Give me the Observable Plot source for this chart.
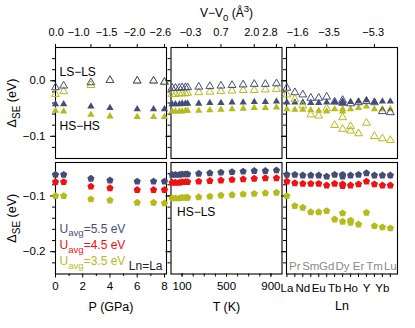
<!DOCTYPE html>
<html><head><meta charset="utf-8">
<script src="https://cdn.jsdelivr.net/npm/d3@7"></script>
<script src="https://cdn.jsdelivr.net/npm/@observablehq/plot@0.6"></script>
<style>
body{margin:0;background:#fff;}
#chart{position:relative;width:415px;height:328px;}
#chart svg{position:absolute;left:0;top:0;}
</style></head><body><div id="chart"></div>
<script>
// ---------- data ----------
const pressure = [0, 0.6, 2.6, 4.0, 6.0, 7.2, 8.0];
const pressureTicksTop = [0, 2.6, 4.0, 6.0, 8.0];
const pressureLabelPosTop = [0.05, 1.7, 3.75, 5.8, 7.7];
const volumeLabelsP = ["0.0", "−1.0", "−1.5", "−2.0", "−2.6"];
const pressureTicks = [0, 2, 4, 6, 8];
const pressureMinor = [1, 3, 5, 7];

const pLS55 = [-0.012, -0.009, -0.003, 0.001, 0.000, 0.000, -0.002];
const pLS35 = [-0.024, -0.019, -0.008, 0.001, 0.000, 0.000, -0.003];
const pHS55 = [-0.042, -0.042, -0.046, -0.049, -0.051, -0.051, -0.051];
const pHS35 = [-0.054, -0.055, -0.061, -0.064, -0.065, -0.065, -0.065];
const pHSLS55 = [-0.062, -0.062, -0.069, -0.072, -0.074, -0.074, -0.074];
const pHSLS45 = [-0.075, -0.075, -0.083, -0.086, -0.089, -0.089, -0.089];
const pHSLS35 = [-0.100, -0.100, -0.106, -0.108, -0.112, -0.112, -0.113];

const temperature = [10, 40, 75, 100, 130, 150, 250, 350, 450, 550, 650, 750, 850, 950];
const temperatureTicksTop = [150, 450, 750, 950];
const temperatureLabelPosTop = [176, 450, 728, 892];
const volumeLabelsT = ["−0.3", "0.7", "2.0", "2.8"];
const temperatureTicks = [100, 200, 300, 400, 500, 600, 700, 800, 900];
const temperatureLabels = [100, 500, 900];

const tLS55 = [-0.013, -0.013, -0.013, -0.012, -0.012, -0.012, -0.011, -0.010, -0.009, -0.008, -0.007, -0.006, -0.006, -0.005];
const tLS35 = [-0.024, -0.024, -0.023, -0.023, -0.023, -0.022, -0.021, -0.020, -0.019, -0.018, -0.017, -0.017, -0.016, -0.015];
const tHS55 = [-0.042, -0.042, -0.042, -0.041, -0.041, -0.041, -0.041, -0.040, -0.040, -0.039, -0.039, -0.038, -0.038, -0.037];
const tHS35 = [-0.055, -0.055, -0.055, -0.055, -0.054, -0.054, -0.054, -0.053, -0.052, -0.051, -0.050, -0.049, -0.049, -0.048];
const tHSLS55 = [-0.062, -0.062, -0.062, -0.061, -0.061, -0.061, -0.060, -0.059, -0.058, -0.057, -0.056, -0.055, -0.055, -0.054];
const tHSLS45 = [-0.076, -0.076, -0.076, -0.075, -0.075, -0.075, -0.074, -0.073, -0.072, -0.071, -0.070, -0.069, -0.068, -0.068];
const tHSLS35 = [-0.104, -0.104, -0.104, -0.103, -0.103, -0.103, -0.102, -0.101, -0.099, -0.098, -0.097, -0.096, -0.095, -0.094];

const lanthanides = ["La", "Pr", "Nd", "Sm", "Eu", "Gd", "Tb", "Dy", "Ho", "Er", "Y", "Tm", "Yb", "Lu"];
const lnTicksTop = [1, 5, 11];
const lnLabelPosTop = [1.36, 5.3, 10.85];
const volumeLabelsLn = ["−1.6", "−3.5", "−5.3"];
const lnOutside = ["La", "Nd", "Eu", "Tb", "Ho", "Y", "Yb"];
const lnInside = ["Pr", "Sm", "Gd", "Dy", "Er", "Tm", "Lu"];

const lLS55 = [-0.013, -0.021, -0.025, -0.031, -0.031, -0.029, -0.038, -0.035, -0.041, -0.039, -0.037, -0.039, -0.055, -0.057];
const lLS35 = [-0.025, -0.033, -0.045, -0.061, -0.063, -0.050, -0.080, -0.066, -0.082, -0.095, -0.076, -0.100, -0.104, -0.107];
const lHS55 = [-0.039, -0.039, -0.039, -0.040, -0.040, -0.039, -0.038, -0.037, -0.038, -0.037, -0.035, -0.038, -0.037, -0.037];
const lHS35 = [-0.051, -0.052, -0.052, -0.053, -0.054, -0.055, -0.051, -0.051, -0.051, -0.049, -0.046, -0.051, -0.051, -0.051];
const lHSLS55 = [-0.062, -0.062, -0.063, -0.063, -0.063, -0.065, -0.062, -0.062, -0.063, -0.062, -0.059, -0.063, -0.063, -0.063];
const lHSLS45 = [-0.074, -0.077, -0.078, -0.078, -0.078, -0.081, -0.078, -0.079, -0.081, -0.079, -0.074, -0.079, -0.081, -0.081];
const lHSLS35 = [-0.100, -0.118, -0.121, -0.129, -0.129, -0.127, -0.142, -0.131, -0.144, -0.151, -0.130, -0.154, -0.156, -0.158];
// second configurations shown at the same Ln
const lnExtra = ["Dy", "Ho"];
const lLS35Extra = [-0.087, -0.090];
const lLS55Extra = [-0.040, null];
const lHS55Extra = [-0.040, null];
const lHS35Extra = [-0.055, null];
const lHSLS55Extra = [-0.065, null];
const lHSLS45Extra = [-0.082, null];
const lHSLS35Extra = [-0.146, -0.148];

const yTopMajor = [-0.1, 0.0];
const yTopMinor = [-0.12, -0.10, -0.08, -0.06, -0.04, -0.02, 0.0, 0.02, 0.04];
const yBotMajor = [-0.2, -0.1];
const yBotMinor = [-0.22, -0.20, -0.18, -0.16, -0.14, -0.12, -0.10, -0.08, -0.06];

const legendLabels = ["U_{avg}=5.5 eV", "U_{avg}=4.5 eV", "U_{avg}=3.5 eV"];

// ---------- styles ----------
const NAVY = "#454d76", RED = "#f01212", YEL = "#b6bb1a";
const W = 415, H = 328;
const cols = [[55, 166], [170.5, 281.5], [286, 397]];
const rows = [[47, 158], [162, 273.5]];
const FONT = "'Liberation Sans', Arial, Helvetica, sans-serif";
const TICKFS = 11, TITLEFS = 12.5;

const pentagon = {
  draw(ctx, size) {
    const R = Math.sqrt(size / 2.378);
    for (let k = 0; k < 5; ++k) {
      const a = -Math.PI / 2 + k * 2 * Math.PI / 5;
      const px = R * Math.cos(a), py = R * Math.sin(a);
      if (k) ctx.lineTo(px, py); else ctx.moveTo(px, py);
    }
    ctx.closePath();
  }
};

const pts = (xs, ys) => xs.map((x, i) => ({x, y: ys[i]})).filter(d => d.y != null);
const lnIdx = names => names.map(n => lanthanides.indexOf(n));
const lnAll = lanthanides.map((d, i) => i);

const openTri = (data, color) => Plot.dot(data, {x: "x", y: "y", symbol: "triangle", r: 2.9, stroke: color, strokeWidth: 1, fill: "none"});
const fillTri = (data, color) => Plot.dot(data, {x: "x", y: "y", symbol: "triangle", r: 2.7, fill: color, stroke: "none"});
const pent = (data, color) => Plot.dot(data, {x: "x", y: "y", symbol: pentagon, r: 3.3, fill: color, stroke: "none"});

const fmt = d3.format(".1f");

function yAxes(row, withLabels) {
  const major = row === 0 ? yTopMajor : yBotMajor;
  const minor = row === 0 ? yTopMinor : yBotMinor;
  return [
    Plot.axisY({ticks: minor, tickSize: 3, tickFormat: () => "", label: null}),
    Plot.axisY({ticks: major, tickSize: 5, tickPadding: 5, tickFormat: withLabels ? fmt : () => "", label: null, fontSize: 11.5})
  ];
}

function panel(col, row, x, y, marks) {
  return Plot.plot({
    width: W, height: H,
    marginLeft: cols[col][0], marginRight: W - cols[col][1],
    marginTop: rows[row][0], marginBottom: H - rows[row][1],
    x, y,
    style: {background: "transparent", fontFamily: FONT, fontSize: "12px", color: "black", overflow: "visible"},
    marks: [Plot.frame({stroke: "black", strokeWidth: 1.1}), ...yAxes(row, col === 0), ...marks]
  });
}

const yTop = {domain: [-0.14, 0.06]};
const yBot = {domain: [-0.24, -0.04]};
const xP = {domain: [0, 8.15]};
const xT = {domain: [0, 1000]};
const xL = {domain: [-0.05, 13.9]};

const topLabels = (pos, labels) => Plot.text(pos, {x: d => d, frameAnchor: "top", dy: -15, text: (d, i) => labels[i], lineAnchor: "middle", fontSize: TICKFS});
const note = (txt, opts) => Plot.text([txt], {text: d => d, lineAnchor: "middle", fontSize: 12, ...opts});

const panels = [];

// P, top
panels.push(panel(0, 0, xP, yTop, [
  Plot.axisX({anchor: "top", ticks: pressureTicksTop, tickSize: 4, tickFormat: () => "", label: null}),
  topLabels(pressureLabelPosTop, volumeLabelsP),
  openTri(pts(pressure, pLS35), YEL), openTri(pts(pressure, pLS55), NAVY),
  fillTri(pts(pressure, pHS55), NAVY), fillTri(pts(pressure, pHS35), YEL),
  note("LS−LS", {frameAnchor: "top-left", dx: 4, dy: 25}),
  note("HS−HS", {frameAnchor: "top-left", dx: 4, dy: 79}),
  note("Δ_{SE} (eV)", {frameAnchor: "left", dx: -43.5, rotate: -90, textAnchor: "middle", fontSize: TITLEFS})
]));
// T, top
panels.push(panel(1, 0, xT, yTop, [
  Plot.axisX({anchor: "top", ticks: temperatureTicksTop, tickSize: 4, tickFormat: () => "", label: null}),
  topLabels(temperatureLabelPosTop, volumeLabelsT),
  openTri(pts(temperature, tLS35), YEL), openTri(pts(temperature, tLS55), NAVY),
  fillTri(pts(temperature, tHS55), NAVY), fillTri(pts(temperature, tHS35), YEL),
  note("V−V_{0} (Å^{3})", {frameAnchor: "top", dy: -34, dx: 0, fontSize: 12})
]));
// Ln, top
panels.push(panel(2, 0, xL, yTop, [
  Plot.axisX({anchor: "top", ticks: lnTicksTop, tickSize: 4, tickFormat: () => "", label: null}),
  topLabels(lnLabelPosTop, volumeLabelsLn),
  fillTri(pts(lnAll, lHS55).concat(pts(lnIdx(lnExtra), lHS55Extra)), NAVY),
  fillTri(pts(lnAll, lHS35).concat(pts(lnIdx(lnExtra), lHS35Extra)), YEL),
  openTri(pts(lnAll, lLS55).concat(pts(lnIdx(lnExtra), lLS55Extra)), NAVY),
  openTri(pts(lnAll, lLS35).concat(pts(lnIdx(lnExtra), lLS35Extra)), YEL)
]));
// P, bottom
panels.push(panel(0, 1, xP, yBot, [
  Plot.axisX({anchor: "bottom", ticks: pressureMinor, tickSize: 2.5, tickFormat: () => "", label: null}),
  Plot.axisX({anchor: "bottom", ticks: pressureTicks, tickSize: 4, tickPadding: 4, label: null, fontSize: 11.5}),
  pent(pts(pressure, pHSLS55), NAVY), pent(pts(pressure, pHSLS45), RED), pent(pts(pressure, pHSLS35), YEL),
  note(legendLabels[0], {frameAnchor: "left", dx: 4, dy: 10.5, fill: NAVY}),
  note(legendLabels[1], {frameAnchor: "left", dx: 4, dy: 27, fill: RED}),
  note(legendLabels[2], {frameAnchor: "left", dx: 4, dy: 43, fill: YEL}),
  note("Ln=La", {frameAnchor: "bottom-right", dx: -4, dy: -8, fill: "#222"}),
  note("P (GPa)", {frameAnchor: "bottom", dy: 33, fontSize: TITLEFS}),
  note("Δ_{SE} (eV)", {frameAnchor: "left", dx: -43.5, rotate: -90, textAnchor: "middle", fontSize: TITLEFS})
]));
// T, bottom
panels.push(panel(1, 1, xT, yBot, [
  Plot.axisX({anchor: "bottom", ticks: temperatureTicks, tickSize: 3, tickFormat: () => "", label: null}),
  Plot.axisX({anchor: "bottom", ticks: temperatureLabels, tickSize: 3, tickPadding: 5, label: null, fontSize: 11.5}),
  pent(pts(temperature, tHSLS55), NAVY), pent(pts(temperature, tHSLS45), RED), pent(pts(temperature, tHSLS35), YEL),
  note("HS−LS", {frameAnchor: "top-left", dx: 6, dy: 50}),
  note("T (K)", {frameAnchor: "bottom", dy: 33, fontSize: TITLEFS})
]));
// Ln, bottom
panels.push(panel(2, 1, xL, yBot, [
  Plot.axisX({anchor: "bottom", ticks: lnAll, tickSize: 3.5, tickFormat: () => "", label: null}),
  Plot.text(lnOutside, {x: d => lanthanides.indexOf(d), frameAnchor: "bottom", dy: 14.5, text: d => d, lineAnchor: "middle", fontSize: 11.5}),
  Plot.text(lnInside, {x: d => lanthanides.indexOf(d), frameAnchor: "bottom", dy: -8, text: d => d, lineAnchor: "middle", fontSize: 11.5, fill: "#8a8a8a"}),
  pent(pts(lnAll, lHSLS55).concat(pts(lnIdx(lnExtra), lHSLS55Extra)), NAVY),
  pent(pts(lnAll, lHSLS45).concat(pts(lnIdx(lnExtra), lHSLS45Extra)), RED),
  pent(pts(lnAll, lHSLS35).concat(pts(lnIdx(lnExtra), lHSLS35Extra)), YEL),
  note("Ln", {frameAnchor: "bottom", dy: 32, fontSize: TITLEFS})
]));

const host = document.getElementById("chart");
panels.forEach(p => host.appendChild(p));

// sub/superscript markup -> tspans
function richify(svg) {
  svg.querySelectorAll("text").forEach(t => {
    const s = t.textContent;
    if (!/[_^]\{/.test(s)) return;
    const fs = parseFloat(getComputedStyle(t).fontSize) || 12;
    t.textContent = "";
    const NS = "http://www.w3.org/2000/svg";
    const add = (txt, dy, size) => {
      const ts = document.createElementNS(NS, "tspan");
      ts.textContent = txt;
      if (dy) ts.setAttribute("dy", dy);
      if (size) ts.setAttribute("font-size", size);
      t.appendChild(ts);
    };
    const re = /([_^])\{([^}]*)\}/g;
    let last = 0, shift = 0, m;
    while ((m = re.exec(s))) {
      if (m.index > last) { add(s.slice(last, m.index), -shift); shift = 0; }
      const sh = m[1] === "_" ? 0.32 * fs : -0.42 * fs;
      add(m[2], sh - shift, 0.8 * fs);
      shift = sh;
      last = re.lastIndex;
    }
    if (last < s.length) add(s.slice(last), -shift);
  });
}
panels.forEach(richify);
</script></body></html>
